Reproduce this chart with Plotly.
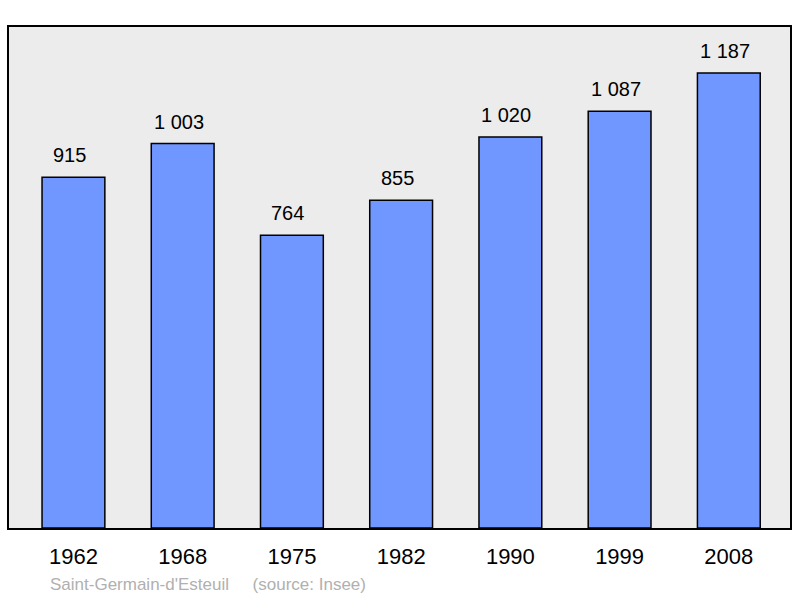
import plotly.graph_objects as go

years = ["1962", "1968", "1975", "1982", "1990", "1999", "2008"]
population = [915, 1003, 764, 855, 1020, 1087, 1187]
labels = ["915", "1 003", "764", "855", "1 020", "1 087", "1 187"]

fig = go.Figure()
fig.add_trace(go.Bar(
    x=years, y=population, width=0.575,
    marker=dict(color="#7096ff", line=dict(color="black", width=1.5)),
    hoverinfo="skip",
))
for i, (v, t) in enumerate(zip(population, labels)):
    fig.add_annotation(x=i, y=v, xref="x", yref="y", text=t, showarrow=False,
                       yanchor="bottom", yshift=9, xshift=-4,
                       font=dict(size=20, color="black"))

fig.add_annotation(xref="paper", yref="paper", x=0.0505, y=0, xanchor="left", yanchor="top",
                   yshift=-45, text="Saint-Germain-d'Esteuil &nbsp;&nbsp;&nbsp; (source: Insee)",
                   showarrow=False, font=dict(size=17, color="#b0b0b0"))

fig.update_layout(
    width=800, height=598,
    margin=dict(l=9, r=8, t=27, b=70),
    paper_bgcolor="white", plot_bgcolor="#ececec",
    font=dict(family="Liberation Sans, Arial, sans-serif", color="black"),
    showlegend=False,
    xaxis=dict(type="category", range=[-0.59, 6.56], showgrid=False, showline=True,
               linecolor="black", linewidth=2, mirror=True, ticks="outside", ticklen=8,
               tickcolor="rgba(0,0,0,0)", tickfont=dict(size=22)),
    yaxis=dict(range=[0, 1307], showgrid=False, showline=True, linecolor="black",
               linewidth=2, mirror=True, showticklabels=False, zeroline=False),
)
fig.write_html("out.html", config={"displayModeBar": False},
               post_script="document.body.style.margin='0';")
